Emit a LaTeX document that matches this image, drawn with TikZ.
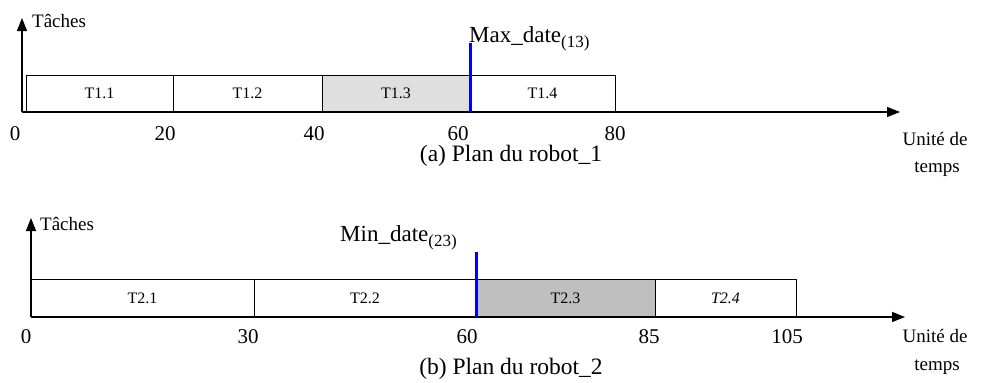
\documentclass[tikz,border=0pt]{standalone}
\usepackage{fontspec}
\setmainfont{Liberation Serif}
\usetikzlibrary{arrows.meta}

\tikzset{
    axe/.style={line width=1.2pt, -{Triangle[length=13pt, width=10pt]}},
    tache/.style={draw, line width=1pt, fill=white, inner sep=0pt, outer sep=0pt,
        font=\fontsize{16}{16}\selectfont},
    borne/.style={blue, line width=3pt},
    grad/.style={anchor=base, inner sep=0pt, font=\fontsize{21}{21}\selectfont},
    legende/.style={anchor=base, inner sep=0pt, font=\fontsize{23.5}{23.5}\selectfont},
    petit/.style={inner sep=0pt, font=\fontsize{19}{19}\selectfont}
}

\newcommand{\indice}[1]{\raisebox{-5pt}{\fontsize{17}{17}\selectfont #1}}

\begin{document}
\begin{tikzpicture}[x=1pt, y=-1pt]
    \useasboundingbox (0,0) rectangle (989,383);

    % ---------- (a) robot 1 ----------
    \coordinate (o1) at (22,112);
    \coordinate (y1) at (22,18);
    \coordinate (x1) at (900,112);

    \node[tache, minimum width=147, minimum height=37] (t11) at (99.5,93.5) {T1.1};
    \node[tache, minimum width=149, minimum height=37] (t12) at (247.5,93.5) {T1.2};
    \node[tache, minimum width=148, minimum height=37, fill=gray!25] (t13) at (396,93.5) {T1.3};
    \node[tache, minimum width=145, minimum height=37] (t14) at (542.5,93.5) {T1.4};

    \draw[axe] (o1) -- (y1);
    \draw[axe] (o1) -- (x1);

    % date au plus tard de T1.3
    \coordinate (m1) at (470,43);
    \draw[borne] (m1) -- (t13.south east);
    \node[anchor=base west, inner sep=0pt, font=\fontsize{23}{23}\selectfont] (max) at (469,42) {Max\_date\indice{(13)}};

    \node[petit, anchor=base west] (ta1) at (32,27) {Tâches};
    \node[grad] (g10) at (15,140) {0};
    \node[grad] (g11) at (165,140) {20};
    \node[grad] (g12) at (314,140) {40};
    \node[grad] (g13) at (458,140) {60};
    \node[grad] (g14) at (615,140) {80};
    \node[petit, anchor=base] (u1) at (935,145) {Unité de};
    \node[petit, anchor=base] (v1) at (937,172) {temps};
    \node[legende] (c1) at (511,161) {(a) Plan du robot\_1};

    % ---------- (b) robot 2 ----------
    \coordinate (o2) at (31,317);
    \coordinate (y2) at (31,218);
    \coordinate (x2) at (905,317);

    \node[tache, minimum width=223, minimum height=38] (t21) at (142.5,298) {T2.1};
    \node[tache, minimum width=222, minimum height=38] (t22) at (365,298) {T2.2};
    \node[tache, minimum width=179, minimum height=38, fill=gray!50] (t23) at (565.5,298) {T2.3};
    \node[tache, minimum width=141, minimum height=38] (t24) at (725.5,298) {\itshape T2.4};

    \draw[axe] (o2) -- (y2);
    \draw[axe] (o2) -- (x2);
    \draw[line width=2pt] (t21.north west) -- (t21.south west);

    % date au plus tot de T2.3
    \coordinate (m2) at (476,252);
    \draw[borne] (m2) -- (t23.south west);
    \node[anchor=base west, inner sep=0pt, font=\fontsize{23}{23}\selectfont] (min) at (340,241) {Min\_date\indice{(23)}};

    \node[petit, anchor=base west] (ta2) at (40,230) {Tâches};
    \node[grad] (g20) at (26,343) {0};
    \node[grad] (g21) at (248,343) {30};
    \node[grad] (g22) at (467,343) {60};
    \node[grad] (g23) at (649,343) {85};
    \node[grad] (g24) at (787,343) {105};
    \node[petit, anchor=base] (u2) at (935,342) {Unité de};
    \node[petit, anchor=base] (v2) at (937,370) {temps};
    \node[legende] (c2) at (511,374) {(b) Plan du robot\_2};
\end{tikzpicture}
\end{document}
